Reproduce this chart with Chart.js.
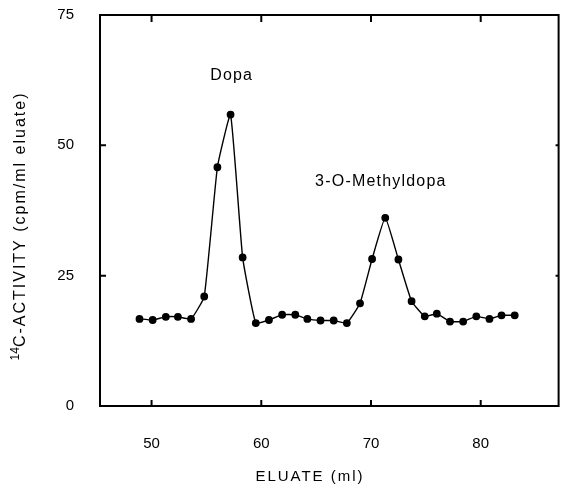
<!DOCTYPE html>
<html>
<head>
    <meta charset="UTF-8">
    <title>Eluate activity</title>
    <script src="https://cdn.jsdelivr.net/npm/chart.js"></script>
    <style>
        body {
            margin: 0;
            background-color: #fff;
        }
    </style>
</head>
<body>
<canvas id="eluateChart" width="564" height="485"></canvas>
<script>
    // fractions collected (ml) and 14C activity (cpm/ml eluate)
    const eluateMl = [48.9, 50.1, 51.3, 52.4, 53.6, 54.8, 56.0, 57.2, 58.3, 59.5,
                      60.7, 61.9, 63.1, 64.2, 65.4, 66.6, 67.8, 69.0, 70.1, 71.3,
                      72.5, 73.7, 74.9, 76.0, 77.2, 78.4, 79.6, 80.8, 81.9, 83.1];
    const activity = [16.7, 16.5, 17.1, 17.1, 16.7, 21.0, 45.8, 55.9, 28.5, 15.9,
                      16.5, 17.5, 17.5, 16.7, 16.4, 16.4, 15.9, 19.7, 28.2, 36.1,
                      28.1, 20.1, 17.2, 17.7, 16.2, 16.2, 17.2, 16.7, 17.4, 17.4];
    const xTicks = [50, 60, 70, 80];
    const yTicks = [0, 25, 50, 75];
    const peakNames = ['Dopa', '3-O-Methyldopa'];
    const peakNameX = [57.3, 70.9];
    const peakNameY = [63.3, 43.1];

    const FONT = '"Liberation Sans", Arial, sans-serif';

    const framePlugin = {
        id: 'frame',
        afterDraw(chart) {
            const ctx = chart.ctx;
            const a = chart.chartArea;
            const xs = chart.scales.x;
            const ys = chart.scales.y;
            ctx.save();
            ctx.strokeStyle = '#000';
            ctx.lineWidth = 2;
            ctx.strokeRect(a.left, a.top, a.right - a.left, a.bottom - a.top);

            // inward ticks
            ctx.beginPath();
            xTicks.forEach(v => {
                const px = xs.getPixelForValue(v);
                ctx.moveTo(px, a.bottom); ctx.lineTo(px, a.bottom - 6);
                ctx.moveTo(px, a.top); ctx.lineTo(px, a.top + 7);
            });
            yTicks.slice(1, -1).forEach(v => {
                const py = ys.getPixelForValue(v);
                ctx.moveTo(a.left, py); ctx.lineTo(a.left + 6, py);
                ctx.moveTo(a.right, py); ctx.lineTo(a.right - 3, py);
            });
            ctx.stroke();

            ctx.fillStyle = '#000';
            ctx.textAlign = 'center';
            ctx.textBaseline = 'middle';

            // peak names
            ctx.font = '16px ' + FONT;
            ctx.letterSpacing = '1.2px';
            peakNames.forEach((name, i) => {
                ctx.fillText(name, xs.getPixelForValue(peakNameX[i]), ys.getPixelForValue(peakNameY[i]));
            });

            // x title
            ctx.font = '15px ' + FONT;
            ctx.letterSpacing = '2px';
            ctx.fillText('ELUATE (ml)', a.left + 210, a.bottom + 71);

            // y title with superscript 14
            ctx.translate(21, a.top + 211);
            ctx.rotate(-Math.PI / 2);
            ctx.textAlign = 'left';
            ctx.font = '12px ' + FONT;
            ctx.letterSpacing = '0px';
            const supW = ctx.measureText('14').width;
            ctx.font = '16px ' + FONT;
            ctx.letterSpacing = '2px';
            const mainText = 'C-ACTIVITY (cpm/ml eluate)';
            const mainW = ctx.measureText(mainText).width;
            const start = -(supW + mainW) / 2;
            ctx.font = '12px ' + FONT;
            ctx.letterSpacing = '0px';
            ctx.fillText('14', start, -5);
            ctx.font = '16px ' + FONT;
            ctx.letterSpacing = '2px';
            ctx.fillText(mainText, start + supW, 0);
            ctx.restore();
        }
    };

    new Chart(document.getElementById('eluateChart'), {
        type: 'line',
        data: {
            datasets: [{
                data: eluateMl.map((x, i) => ({ x: x, y: activity[i] })),
                borderColor: '#000',
                borderWidth: 1.4,
                pointRadius: 3.2,
                pointBackgroundColor: '#000',
                pointBorderColor: '#000',
                tension: 0.12,
                fill: false
            }]
        },
        options: {
            responsive: false,
            animation: false,
            devicePixelRatio: 1,
            layout: { padding: { top: 15, right: 5, left: 0, bottom: 0 } },
            plugins: {
                legend: { display: false },
                tooltip: { enabled: false }
            },
            scales: {
                x: {
                    type: 'linear',
                    min: 45.3,
                    max: 87.1,
                    afterBuildTicks: s => { s.ticks = xTicks.map(v => ({ value: v })); },
                    afterFit: s => { s.height = 79; s.paddingLeft = 0; s.paddingRight = 0; },
                    grid: { display: false, drawTicks: false },
                    border: { display: false },
                    ticks: { padding: 29, color: '#000', font: { size: 15, family: FONT } }
                },
                y: {
                    min: 0,
                    max: 75,
                    afterBuildTicks: s => { s.ticks = yTicks.map(v => ({ value: v })); },
                    afterFit: s => { s.width = 100; s.paddingTop = 0; s.paddingBottom = 0; },
                    grid: { display: false, drawTicks: false },
                    border: { display: false },
                    ticks: { padding: 26, color: '#000', font: { size: 15, family: FONT } }
                }
            }
        },
        plugins: [framePlugin]
    });
</script>
</body>
</html>
